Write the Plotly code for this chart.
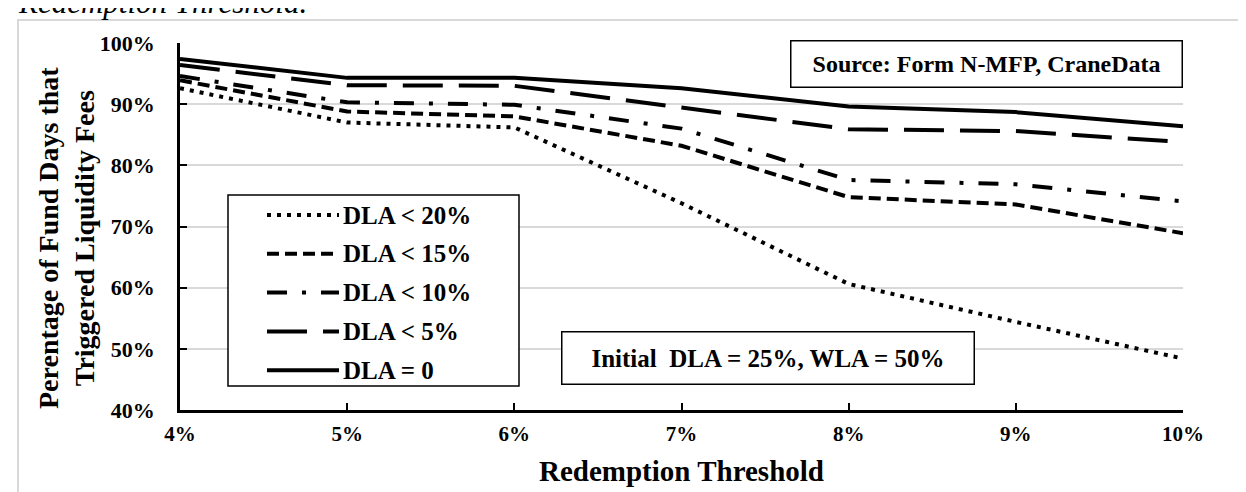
import plotly.graph_objects as go

# Redemption thresholds (%) on the x axis
thresholds = [4, 5, 6, 7, 8, 9, 10]

# Percentage of fund days that triggered liquidity fees
dla_lt_20 = [92.6, 87.0, 86.2, 73.8, 60.6, 54.4, 48.4]
dla_lt_15 = [93.9, 88.8, 88.0, 83.2, 74.8, 73.6, 68.9]
dla_lt_10 = [94.6, 90.3, 89.9, 86.0, 77.6, 76.9, 74.1]
dla_lt_5 = [96.4, 93.1, 93.0, 89.4, 85.9, 85.6, 83.8]
dla_0 = [97.4, 94.3, 94.3, 92.6, 89.6, 88.7, 86.4]

series_names = ['DLA < 20%', 'DLA < 15%', 'DLA < 10%', 'DLA < 5%', 'DLA = 0']
series_values = [dla_lt_20, dla_lt_15, dla_lt_10, dla_lt_5, dla_0]
series_dash = ['4px,6px', '12px,6px', '20px,15px,4px,15px', '40px,16px', 'solid']

FONT = 'Liberation Serif, Times New Roman, serif'

fig = go.Figure()

for name, values, dash in zip(series_names, series_values, series_dash):
    fig.add_trace(go.Scatter(
        x=thresholds,
        y=values,
        mode='lines',
        name=name,
        line=dict(color='black', width=4, dash=dash),
        showlegend=False
    ))

# Plot area in pixels: x 172..1175, y 35..402
def px_x(px):
    return (px - 172) / 1003

def px_y(py):
    return (402 - py) / 367

shapes = []

# outer light grey frame
shapes.append(dict(
    type='rect', xref='paper', yref='paper',
    x0=px_x(10), x1=px_x(1260), y0=px_y(510), y1=px_y(12),
    line=dict(color='#d9d9d9', width=2), layer='below'
))

# hand-drawn legend box with long samples
shapes.append(dict(
    type='rect', xref='paper', yref='paper',
    x0=px_x(220), x1=px_x(511), y0=px_y(378), y1=px_y(187),
    line=dict(color='black', width=1.5), fillcolor='white', layer='above'
))

annotations = []
for i, (name, dash) in enumerate(zip(series_names, series_dash)):
    yy = px_y(207 + i * 38.8)
    shapes.append(dict(
        type='line', xref='paper', yref='paper',
        x0=px_x(259), x1=px_x(331), y0=yy, y1=yy,
        line=dict(color='black', width=4, dash=dash), layer='above'
    ))
    annotations.append(dict(
        text=name, xref='paper', yref='paper',
        x=px_x(333), y=yy, xanchor='left', yanchor='middle',
        showarrow=False,
        font=dict(family=FONT, size=25, color='black', weight='bold')
    ))

# Source note
annotations.append(dict(
    text='Source: Form N-MFP, CraneData', xref='paper', yref='paper',
    x=px_x(978), y=px_y(55.5), xanchor='center', yanchor='middle',
    showarrow=False, width=388, height=43,
    bordercolor='black', borderwidth=1.5, borderpad=1, bgcolor='white',
    font=dict(family=FONT, size=24, color='black', weight='bold')
))

# Initial liquidity note
annotations.append(dict(
    text='Initial  DLA = 25%, WLA = 50%', xref='paper', yref='paper',
    x=px_x(759.5), y=px_y(349.5), xanchor='center', yanchor='middle',
    showarrow=False, width=409, height=49,
    bordercolor='black', borderwidth=1.5, borderpad=1, bgcolor='white',
    font=dict(family=FONT, size=25, color='black', weight='bold')
))

# Axis titles
annotations.append(dict(
    text='Perentage of Fund Days that<br>Triggered Liquidity Fees',
    xref='paper', yref='paper', x=px_x(58), y=px_y(230),
    xanchor='center', yanchor='middle', textangle=-90, showarrow=False,
    font=dict(family=FONT, size=28, color='black', weight='bold')
))
annotations.append(dict(
    text='Redemption Threshold', xref='paper', yref='paper',
    x=0.5, y=px_y(463), xanchor='center', yanchor='middle', showarrow=False,
    font=dict(family=FONT, size=29, color='black', weight='bold')
))

# Caption clipped at the top of the page
annotations.append(dict(
    text='<i>Redemption Threshold.</i>', xref='paper', yref='paper',
    x=px_x(8), y=px_y(14), xanchor='left', yanchor='bottom', showarrow=False,
    font=dict(family=FONT, size=31, color='black')
))

fig.update_layout(
    width=1246,
    height=492,
    margin=dict(l=172, r=71, t=35, b=90),
    plot_bgcolor='white',
    paper_bgcolor='white',
    showlegend=False,
    shapes=shapes,
    annotations=annotations,
    xaxis=dict(
        range=[4, 10],
        tickmode='array',
        tickvals=thresholds,
        ticktext=[f'{t}%' for t in thresholds],
        showgrid=False,
        zeroline=False,
        showline=True,
        linecolor='black',
        linewidth=2.5,
        ticks='inside',
        ticklen=7,
        tickwidth=2,
        tickcolor='black',
        ticklabelstandoff=3,
        tickfont=dict(family=FONT, size=21, color='black', weight='bold')
    ),
    yaxis=dict(
        range=[40, 100],
        tickmode='array',
        tickvals=[40, 50, 60, 70, 80, 90, 100],
        ticktext=['40%', '50%', '60%', '70%', '80%', '90%', '100%'],
        showgrid=True,
        gridcolor='#d9d9d9',
        gridwidth=1.5,
        zeroline=False,
        showline=True,
        linecolor='black',
        linewidth=2.5,
        ticks='inside',
        ticklen=7,
        tickwidth=2,
        tickcolor='black',
        ticklabelstandoff=18,
        tickfont=dict(family=FONT, size=22, color='black', weight='bold')
    )
)

fig.write_html('out.html')
